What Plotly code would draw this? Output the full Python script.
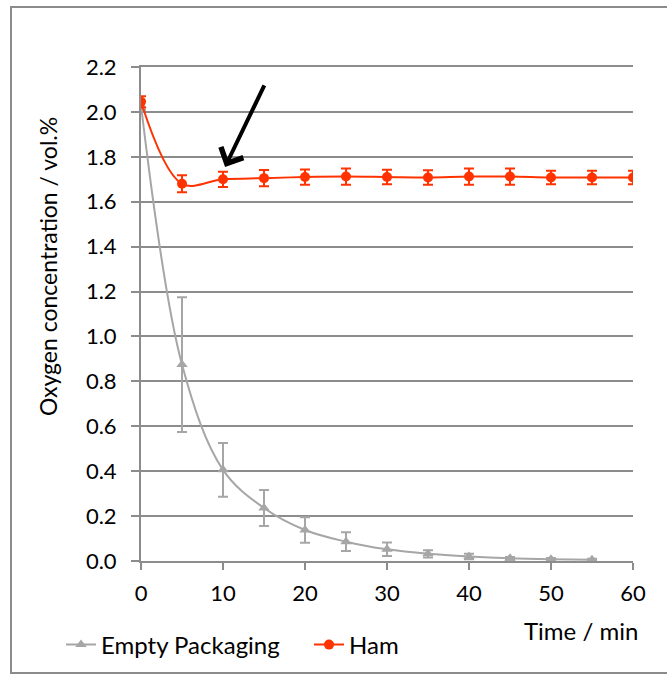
import plotly.graph_objects as go

# Sampling times (min)
time_empty = [0, 5, 10, 15, 20, 25, 30, 35, 40, 45, 50, 55]
time_ham = [0, 5, 10, 15, 20, 25, 30, 35, 40, 45, 50, 55, 60]

# Oxygen concentration (vol.%) and standard deviations
o2_empty = [2.03, 0.875, 0.406, 0.236, 0.138, 0.086, 0.052, 0.032, 0.02, 0.012, 0.008, 0.006]
err_empty = [0.02, 0.30, 0.12, 0.08, 0.057, 0.042, 0.03, 0.016, 0.012, 0.006, 0.005, 0.004]

o2_ham = [2.045, 1.68, 1.70, 1.705, 1.71, 1.712, 1.71, 1.708, 1.712, 1.712, 1.708, 1.708, 1.708]
err_ham = [0.025, 0.038, 0.034, 0.036, 0.034, 0.036, 0.032, 0.032, 0.036, 0.036, 0.03, 0.03, 0.03]

x_ticks = [0, 10, 20, 30, 40, 50, 60]
y_ticks = [0.0, 0.2, 0.4, 0.6, 0.8, 1.0, 1.2, 1.4, 1.6, 1.8, 2.0, 2.2]

GRAY = "#a6a6a6"
RED = "#ff3300"
AXIS = "#8c8c8c"
FONT = "Lato"

fig = go.Figure()

fig.add_trace(go.Scatter(
    x=time_empty, y=o2_empty, name="Empty Packaging",
    mode="lines+markers", legend="legend",
    line=dict(color=GRAY, width=2, shape="spline", smoothing=1.0),
    marker=dict(symbol="triangle-up", size=10, color=GRAY),
    error_y=dict(type="data", array=err_empty, color=GRAY, thickness=2, width=5),
))

fig.add_trace(go.Scatter(
    x=time_ham, y=o2_ham, name="Ham",
    mode="lines+markers", legend="legend2",
    line=dict(color=RED, width=2, shape="spline", smoothing=1.0),
    marker=dict(symbol="circle", size=10, color=RED),
    error_y=dict(type="data", array=err_ham, color=RED, thickness=2, width=5),
))

# Arrow pointing at the Ham plateau
fig.add_annotation(
    x=10.25, y=1.755, xref="x", yref="y",
    ax=40, ay=-83, axref="pixel", ayref="pixel",
    showarrow=True, arrowhead=4, arrowsize=1.2, arrowwidth=4,
    arrowcolor="black", text="",
)

# Axis titles
fig.add_annotation(
    text="Time / min", x=0.894, y=-0.14, xref="paper", yref="paper",
    showarrow=False, font=dict(family=FONT, size=24, color="black"),
    xanchor="center", yanchor="middle",
)
fig.add_annotation(
    text="Oxygen concentration / vol.%", x=-0.189, y=0.595,
    xref="paper", yref="paper", textangle=-90,
    showarrow=False, font=dict(family=FONT, size=23, color="black"),
    xanchor="center", yanchor="middle",
)

# Chart frame
fig.add_shape(
    type="rect", xref="paper", yref="paper",
    x0=-0.2642, x1=1.2, y0=-0.2267, y1=1.1215,
    line=dict(color=AXIS, width=2), layer="below",
)

fig.update_xaxes(
    range=[0, 60], tickvals=x_ticks, ticktext=[str(v) for v in x_ticks],
    showgrid=False, zeroline=False,
    showline=True, linecolor=AXIS, linewidth=2, mirror=True,
    ticks="outside", ticklen=7, tickwidth=2, tickcolor=AXIS,
    ticklabelstandoff=5,
    tickfont=dict(family=FONT, size=22, color="black"),
)
fig.update_yaxes(
    range=[0, 2.2], tickvals=y_ticks, ticktext=[f"{v:.1f}" for v in y_ticks],
    showgrid=True, gridcolor=AXIS, gridwidth=2, zeroline=False,
    showline=True, linecolor=AXIS, linewidth=2,
    ticks="outside", ticklen=8, tickwidth=2, tickcolor=AXIS,
    ticklabelstandoff=10,
    tickfont=dict(family=FONT, size=22, color="black"),
)

legend_style = dict(
    orientation="h", xref="container", yref="container",
    y=1 - 645 / 678, xanchor="left", yanchor="middle",
    font=dict(family=FONT, size=24, color="black"),
    itemwidth=30, bgcolor="rgba(0,0,0,0)",
)

fig.update_layout(
    width=667, height=678,
    margin=dict(l=141, r=34, t=67, b=117, autoexpand=False),
    paper_bgcolor="white", plot_bgcolor="white",
    showlegend=True,
    legend=dict(x=61 / 667, **legend_style),
    legend2=dict(x=309 / 667, **legend_style),
)

fig.write_html("out.html")
